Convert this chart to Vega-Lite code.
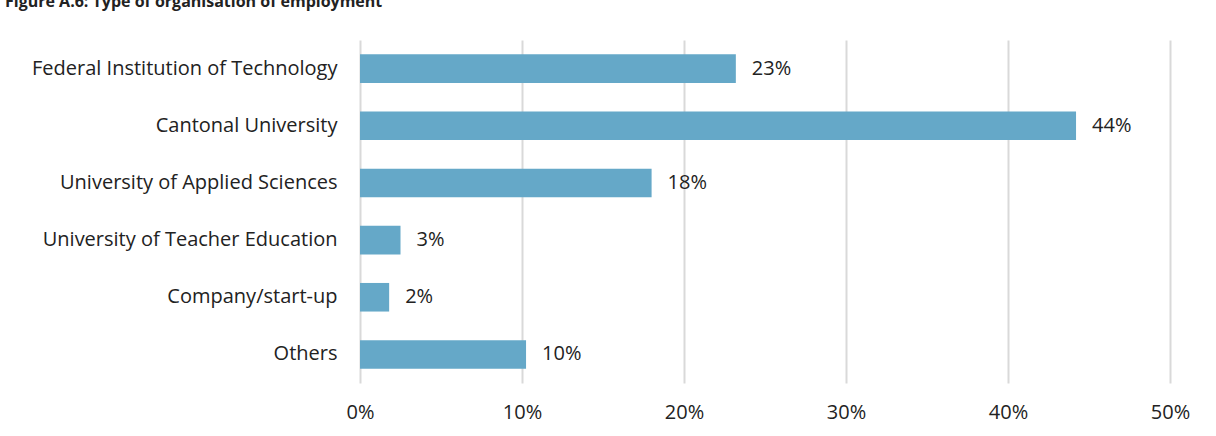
{
  "$schema": "https://vega.github.io/schema/vega-lite/v6.json",
  "autosize": "none",
  "width": 810,
  "height": 343,
  "padding": {"left": 360, "top": 40, "right": 46, "bottom": 53},
  "background": "white",
  "title": {
    "text": "Figure A.6: Type of organisation of employment",
    "anchor": "start",
    "frame": "group",
    "baseline": "alphabetic",
    "orient": "top",
    "offset": 17,
    "dx": -355,
    "font": "Open Sans",
    "fontSize": 16,
    "fontWeight": "bold",
    "color": "#222222"
  },
  "data": {
    "values": [
      {"category": "Federal Institution of Technology", "share": 23.2, "label": "23%"},
      {"category": "Cantonal University", "share": 44.2, "label": "44%"},
      {"category": "University of Applied Sciences", "share": 18.0, "label": "18%"},
      {"category": "University of Teacher Education", "share": 2.5, "label": "3%"},
      {"category": "Company/start-up", "share": 1.8, "label": "2%"},
      {"category": "Others", "share": 10.25, "label": "10%"}
    ]
  },
  "encoding": {
    "y": {
      "field": "category",
      "type": "nominal",
      "sort": null,
      "scale": {"paddingInner": 0.5, "paddingOuter": 0.25},
      "axis": {
        "title": null,
        "ticks": false,
        "domain": false,
        "labelPadding": 23,
        "labelFont": "Open Sans",
        "labelFontSize": 20,
        "labelColor": "#222222",
        "labelLimit": 400
      }
    },
    "x": {
      "field": "share",
      "type": "quantitative",
      "scale": {"domain": [0, 50], "nice": false},
      "axis": {
        "title": null,
        "values": [0, 10, 20, 30, 40, 50],
        "labelExpr": "datum.value + '%'",
        "labelFlush": false,
        "ticks": false,
        "domain": false,
        "grid": true,
        "gridColor": "#d9d9d9",
        "gridWidth": 2,
        "labelPadding": 19,
        "labelFont": "Open Sans",
        "labelFontSize": 20,
        "labelColor": "#222222"
      }
    }
  },
  "layer": [
    {"mark": {"type": "bar", "color": "#65a8c8"}},
    {
      "mark": {"type": "text", "align": "left", "dx": 16, "font": "Open Sans", "fontSize": 20, "color": "#222222"},
      "encoding": {"text": {"field": "label"}}
    }
  ],
  "config": {"view": {"stroke": null}}
}
